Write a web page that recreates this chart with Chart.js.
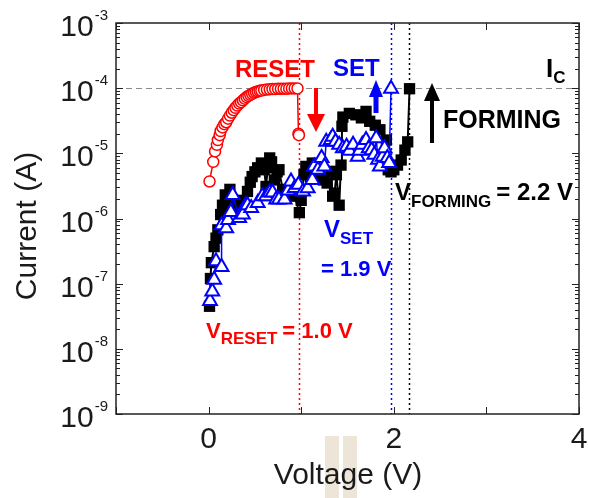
<!DOCTYPE html>
<html lang="en">
<head>
  <meta charset="UTF-8">
  <title>Forming / Set / Reset I-V</title>
  <style>
    body {
      margin: 0;
      padding: 0;
      background-color: #ffffff;
    }
    #chart {
      display: block;
    }
  </style>
</head>
<body>

<canvas id="chart" width="589" height="498"></canvas>

<script src="https://cdn.jsdelivr.net/npm/chart.js"></script>
<script>
  // forming sweep (black squares)
  const formingV = [0.01, 0.02, 0.03, 0.06, 0.08, 0.10, 0.13, 0.15, 0.18, 0.20, 0.23, 0.26, 0.30, 0.33, 0.37,
    0.42, 0.45, 0.47, 0.50, 0.53, 0.57, 0.60, 0.62, 0.64, 0.66, 0.68, 0.71, 0.74, 0.76, 0.80, 0.84, 0.88,
    0.93, 0.98, 1.00, 1.03, 1.05, 1.10, 1.12, 1.16, 1.20, 1.24, 1.28, 1.32, 1.34, 1.36, 1.38, 1.41, 1.43,
    1.44, 1.45, 1.52, 1.59, 1.65, 1.70, 1.74, 1.80, 1.85, 1.92, 1.94, 1.97, 2.00, 2.04, 2.08, 2.12, 2.15, 2.17];
  const formingI = [4.5e-8, 1.2e-7, 2.1e-7, 3.7e-7, 5e-7, 6.7e-7, 1.15e-6, 1.6e-6, 2.3e-6, 2.2e-6, 2.8e-6, 1.6e-6,
    1.35e-6, 1.6e-6, 1.9e-6, 2.6e-6, 3.6e-6, 4.4e-6, 5.2e-6, 6e-6, 7.1e-6, 5.6e-6, 3.1e-6, 6e-6, 8.5e-6, 7.4e-6,
    3.9e-6, 5.2e-6, 5.6e-6, 2.8e-6, 2.5e-6, 2.8e-6, 2.2e-6, 1.23e-6, 1.9e-6, 4.7e-6, 6.3e-6, 4.4e-6, 7.1e-6,
    5.6e-6, 4.7e-6, 3.9e-6, 3.5e-6, 5.3e-6, 2.2e-6, 2.45e-6, 4.7e-6, 1.6e-6, 6.6e-6, 2.6e-5, 3.6e-5, 4.1e-5,
    3.9e-5, 3.5e-5, 4.4e-5, 3.1e-5, 2.7e-5, 2.3e-5, 1.6e-5, 5.6e-6, 5.2e-6, 5.6e-6, 6.6e-6, 7.9e-6, 1.12e-5,
    1.5e-5, 9.8e-5];

  // set sweep (blue open triangles)
  const setV = [0.015, 0.04, 0.06, 0.08, 0.14, 0.14, 0.19, 0.21, 0.24, 0.26, 0.33, 0.37, 0.40, 0.42, 0.46, 0.53,
    0.58, 0.62, 0.66, 0.69, 0.73, 0.76, 0.82, 0.86, 0.89, 0.93, 0.97, 1.02, 1.07, 1.12, 1.14, 1.18, 1.22, 1.25,
    1.27, 1.32, 1.34, 1.37, 1.41, 1.45, 1.49, 1.52, 1.56, 1.61, 1.63, 1.66, 1.70, 1.73, 1.76, 1.79, 1.81, 1.83,
    1.85, 1.88, 1.90, 1.93, 1.95, 1.97];
  const setI = [5.4e-8, 7.6e-8, 1.15e-7, 2.2e-7, 1.8e-7, 7.9e-7, 7.1e-7, 9.5e-7, 1.26e-6, 2.3e-6, 1.02e-6, 1.15e-6,
    1.6e-6, 1.6e-6, 1.45e-6, 1.73e-6, 2.2e-6, 2.2e-6, 2.5e-6, 2.5e-6, 1.95e-6, 1.95e-6, 1.95e-6, 2.7e-6, 3.7e-6,
    2.95e-6, 3.3e-6, 2.6e-6, 2.9e-6, 3.9e-6, 6.3e-6, 5.6e-6, 8.5e-6, 6.3e-6, 1.5e-5, 1.6e-5, 1.8e-5, 1.5e-5,
    1.35e-5, 1.2e-5, 1.26e-5, 1.1e-5, 1.35e-5, 8.9e-6, 1.1e-5, 1.35e-5, 1.6e-5, 1.2e-5, 1.12e-5, 9.5e-6, 1.7e-5,
    8e-6, 6.3e-6, 8.9e-6, 1.2e-5, 8.5e-6, 7.1e-6, 9.8e-5];

  // reset sweep (red open circles)
  const resetV = [0.01, 0.05, 0.07, 0.09, 0.10, 0.12, 0.13, 0.15, 0.17, 0.19, 0.21, 0.23, 0.25, 0.27, 0.29, 0.31,
    0.33, 0.35, 0.37, 0.39, 0.41, 0.43, 0.45, 0.47, 0.49, 0.51, 0.53, 0.55, 0.57, 0.60, 0.63, 0.66, 0.69, 0.72,
    0.75, 0.78, 0.81, 0.84, 0.87, 0.90, 0.93, 0.96, 0.97, 0.975];
  const resetI = [3.7e-6, 7.4e-6, 1.07e-5, 1.35e-5, 1.6e-5, 1.9e-5, 2.2e-5, 2.5e-5, 2.8e-5, 3.0e-5, 3.4e-5, 3.8e-5,
    4.2e-5, 4.6e-5, 5.0e-5, 5.4e-5, 5.8e-5, 6.1e-5, 6.5e-5, 6.9e-5, 7.3e-5, 7.6e-5, 7.9e-5, 8.2e-5, 8.5e-5,
    8.7e-5, 8.9e-5, 9.1e-5, 9.2e-5, 9.4e-5, 9.5e-5, 9.6e-5, 9.7e-5, 9.7e-5, 9.8e-5, 9.8e-5, 9.8e-5, 9.8e-5,
    9.9e-5, 9.9e-5, 9.9e-5, 9.9e-5, 2.0e-5, 1.9e-5];

  const complianceI = 1e-4;
  const vReset = 0.98;
  const vSet = 1.965;
  const vForming = 2.16;

  const xTicks = [-1, 0, 1, 2, 3, 4];
  const xTickLabels = ['', '0', '', '2', '', '4'];
  const yDecades = [-9, -8, -7, -6, -5, -4, -3];

  function toPoints(xs, ys) {
    return xs.map((x, i) => ({ x: x, y: ys[i] }));
  }

  function drawSubText(ctx, x, y, parts, color) {
    ctx.fillStyle = color;
    ctx.textAlign = 'left';
    ctx.textBaseline = 'alphabetic';
    let cx = x;
    parts.forEach(p => {
      ctx.font = p.font;
      ctx.fillText(p.text, cx, y + (p.dy || 0));
      cx += ctx.measureText(p.text).width + (p.gap || 0);
    });
  }

  function arrow(ctx, x, tail, tip, headLen, halfW, shaftW, color) {
    const dir = tip > tail ? 1 : -1;
    ctx.fillStyle = color;
    ctx.fillRect(x - shaftW / 2, Math.min(tail, tip - dir * headLen), shaftW, Math.abs(tip - dir * headLen - tail) + 1);
    ctx.beginPath();
    ctx.moveTo(x - halfW, tip - dir * headLen);
    ctx.lineTo(x + halfW, tip - dir * headLen);
    ctx.lineTo(x, tip);
    ctx.closePath();
    ctx.fill();
  }

  const decorPlugin = {
    id: 'decor',
    beforeDraw(chart) {
      const ctx = chart.ctx;
      // beige smudge behind the x title
      ctx.save();
      ctx.fillStyle = '#ede6d8';
      ctx.fillRect(325, 436, 14, 62);
      ctx.fillRect(343, 436, 14, 62);
      ctx.restore();
    },
    beforeDatasetsDraw(chart) {
      const ctx = chart.ctx;
      const xs = chart.scales.x;
      const ys = chart.scales.y;
      const a = chart.chartArea;
      ctx.save();
      // compliance line
      ctx.strokeStyle = '#8a8a8a';
      ctx.lineWidth = 1;
      ctx.setLineDash([6, 4]);
      const yc = Math.round(ys.getPixelForValue(complianceI)) + 0.5;
      ctx.beginPath();
      ctx.moveTo(a.left, yc);
      ctx.lineTo(a.right, yc);
      ctx.stroke();
      // switching voltages
      ctx.setLineDash([2, 3]);
      ctx.lineWidth = 1.5;
      [[vReset, '#ff0000'], [vSet, '#0000ff'], [vForming, '#000000']].forEach(([v, c]) => {
        const px = Math.round(xs.getPixelForValue(v)) + 0.5;
        ctx.strokeStyle = c;
        ctx.beginPath();
        ctx.moveTo(px, a.top);
        ctx.lineTo(px, a.bottom);
        ctx.stroke();
      });
      ctx.restore();
    },
    afterDraw(chart) {
      const ctx = chart.ctx;
      const xs = chart.scales.x;
      const ys = chart.scales.y;
      const a = chart.chartArea;
      ctx.save();
      ctx.setLineDash([]);
      ctx.strokeStyle = '#222222';
      ctx.lineWidth = 1.5;
      ctx.strokeRect(a.left, a.top, a.right - a.left, a.bottom - a.top);

      // ticks, pointing inward
      ctx.lineWidth = 1;
      ctx.beginPath();
      xTicks.forEach(v => {
        const px = Math.round(xs.getPixelForValue(v)) + 0.5;
        ctx.moveTo(px, a.bottom);
        ctx.lineTo(px, a.bottom - 7);
        ctx.moveTo(px, a.top);
        ctx.lineTo(px, a.top + 7);
      });
      yDecades.forEach((d, i) => {
        const py = Math.round(ys.getPixelForValue(Math.pow(10, d))) + 0.5;
        ctx.moveTo(a.left, py);
        ctx.lineTo(a.left + 7, py);
        ctx.moveTo(a.right, py);
        ctx.lineTo(a.right - 7, py);
        if (i < yDecades.length - 1) {
          for (let m = 2; m <= 9; m++) {
            const pm = Math.round(ys.getPixelForValue(m * Math.pow(10, d))) + 0.5;
            ctx.moveTo(a.left, pm);
            ctx.lineTo(a.left + 4, pm);
            ctx.moveTo(a.right, pm);
            ctx.lineTo(a.right - 4, pm);
          }
        }
      });
      ctx.stroke();

      // tick labels
      ctx.fillStyle = '#1a1a1a';
      ctx.textBaseline = 'middle';
      ctx.textAlign = 'center';
      ctx.font = '30px Arial, "Liberation Sans", sans-serif';
      xTicks.forEach((v, i) => {
        if (xTickLabels[i]) {
          ctx.fillText(xTickLabels[i], xs.getPixelForValue(v), 440);
        }
      });
      yDecades.forEach(d => {
        const py = ys.getPixelForValue(Math.pow(10, d));
        ctx.textAlign = 'right';
        ctx.textBaseline = 'alphabetic';
        ctx.font = '15px Arial, "Liberation Sans", sans-serif';
        const ex = String(d);
        const exW = ctx.measureText(ex).width;
        ctx.fillText(ex, 108, py - 3);
        ctx.font = '30px Arial, "Liberation Sans", sans-serif';
        ctx.fillText('10', 108 - exW - 1, py + 13);
      });

      // axis titles
      ctx.font = '30px Arial, "Liberation Sans", sans-serif';
      ctx.textAlign = 'center';
      ctx.textBaseline = 'middle';
      ctx.fillText('Voltage (V)', 348, 476);
      ctx.save();
      ctx.translate(28, 226);
      ctx.rotate(-Math.PI / 2);
      ctx.fillText('Current (A)', 0, 0);
      ctx.restore();

      // annotations
      const B = 'bold 24px Arial, "Liberation Sans", sans-serif';
      const S = 'bold 17px Arial, "Liberation Sans", sans-serif';
      drawSubText(ctx, 235, 77, [{ text: 'RESET', font: B }], '#ff0000');
      drawSubText(ctx, 333, 76, [{ text: 'SET', font: B }], '#0000ff');
      drawSubText(ctx, 546, 77, [{ text: 'I', font: 'bold 26px Arial, "Liberation Sans", sans-serif' },
        { text: 'C', font: S, dy: 6 }], '#000000');
      drawSubText(ctx, 443, 128, [{ text: 'FORMING', font: 'bold 25px Arial, "Liberation Sans", sans-serif' }], '#000000');
      drawSubText(ctx, 395, 200, [{ text: 'V', font: B }, { text: 'FORMING', font: S, dy: 7, gap: 5 },
        { text: '= 2.2 V', font: B }], '#000000');
      drawSubText(ctx, 324, 237, [{ text: 'V', font: B }, { text: 'SET', font: S, dy: 7 }], '#0000ff');
      drawSubText(ctx, 321, 276, [{ text: '= 1.9 V', font: 'bold 22px Arial, "Liberation Sans", sans-serif' }], '#0000ff');
      drawSubText(ctx, 206, 338, [{ text: 'V', font: 'bold 22px Arial, "Liberation Sans", sans-serif' },
        { text: 'RESET', font: S, dy: 6, gap: 5 },
        { text: '= 1.0 V', font: 'bold 22px Arial, "Liberation Sans", sans-serif' }], '#ff0000');

      arrow(ctx, 316, 88, 132, 18, 9, 4, '#ff0000');
      arrow(ctx, 376, 112, 80, 17, 7, 5, '#0000ff');
      arrow(ctx, 432, 142, 83, 18, 8, 4, '#000000');
      ctx.restore();
    }
  };

  const ctx = document.getElementById('chart').getContext('2d');
  const chart = new Chart(ctx, {
    type: 'scatter',
    data: {
      datasets: [
        {
          label: 'RESET',
          data: toPoints(resetV, resetI),
          showLine: true,
          borderColor: '#ff0000',
          backgroundColor: '#ffffff',
          borderWidth: 1.5,
          pointStyle: 'circle',
          pointRadius: 5.5,
          pointBorderWidth: 1.5,
          pointBorderColor: '#ff0000',
          pointBackgroundColor: '#ffffff',
          order: 0
        },
        {
          label: 'SET',
          data: toPoints(setV, setI),
          showLine: true,
          borderColor: '#0000ff',
          backgroundColor: '#ffffff',
          borderWidth: 1.5,
          pointStyle: 'triangle',
          pointRadius: 8,
          pointBorderWidth: 2,
          pointBorderColor: '#0000ff',
          pointBackgroundColor: '#ffffff',
          order: 1
        },
        {
          label: 'FORMING',
          data: toPoints(formingV, formingI),
          showLine: true,
          borderColor: '#000000',
          backgroundColor: '#000000',
          borderWidth: 2,
          pointStyle: 'rect',
          pointRadius: 8,
          pointBorderWidth: 0,
          pointBackgroundColor: '#000000',
          order: 2
        }
      ]
    },
    options: {
      responsive: false,
      animation: false,
      devicePixelRatio: 1,
      layout: {
        padding: { left: 116, right: 9, top: 23, bottom: 84 }
      },
      plugins: {
        legend: { display: false },
        tooltip: { enabled: false }
      },
      scales: {
        x: {
          type: 'linear',
          min: -1,
          max: 4,
          display: false
        },
        y: {
          type: 'logarithmic',
          min: 1e-9,
          max: 1e-3,
          display: false
        }
      }
    },
    plugins: [decorPlugin]
  });
</script>
</body>
</html>
